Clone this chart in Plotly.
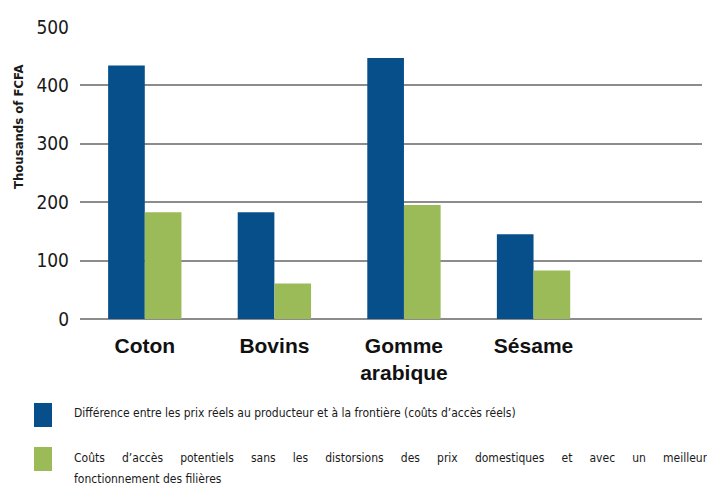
import plotly.graph_objects as go

categories = ["Coton", "Bovins", "Gomme<br>arabique", "Sésame"]
reel_values = [434, 183, 447, 145]
potentiel_values = [183, 61, 195, 83]
series_names = [
    "Différence entre les prix réels au producteur et à la frontière (coûts d’accès réels)",
    "Coûts d’accès potentiels sans les distorsions des prix domestiques et avec un meilleur fonctionnement des filières",
]
legend2_line1_words = ["Coûts", "d’accès", "potentiels", "sans", "les", "distorsions", "des",
                       "prix", "domestiques", "et", "avec", "un", "meilleur"]
legend2_line2 = "fonctionnement des filières"
y_ticks = [0, 100, 200, 300, 400, 500]

BLUE = "#064f8b"
GREEN = "#9bbb59"
GRID = "#8c8c8c"
NARROW = "DejaVu Sans Condensed"

W, H = 707, 488
L, R, T, B = 80, 5, 27, 169
PW, PH = W - L - R, H - T - B

def px(x):
    return (x - L) / PW

def py(y):
    return (H - B - y) / PH

fig = go.Figure()
fig.add_trace(go.Bar(x=categories, y=reel_values, name=series_names[0],
                     marker=dict(color=BLUE, line=dict(width=0)), showlegend=False))
fig.add_trace(go.Bar(x=categories, y=potentiel_values, name=series_names[1],
                     marker=dict(color=GREEN, line=dict(width=0)), showlegend=False))

fig.update_layout(
    width=W, height=H,
    margin=dict(l=L, r=R, t=T, b=B, pad=0, autoexpand=False),
    paper_bgcolor="white", plot_bgcolor="white",
    barmode="group", bargap=0.434, bargroupgap=0,
    showlegend=False,
    font=dict(family=NARROW, color="#1a1a1a"),
)
fig.update_xaxes(
    type="category", range=[-0.5, 4.3], automargin=False,
    tickfont=dict(family="Liberation Sans", size=21, color="#111111", weight="bold"),
    showgrid=False, showline=False, zeroline=False, ticks="", ticklabelstandoff=12,
)
fig.update_yaxes(
    range=[0, 500], tickvals=y_ticks, automargin=False,
    tickfont=dict(family=NARROW, size=19, color="#1a1a1a"),
    showgrid=True, gridcolor=GRID, gridwidth=2,
    zeroline=True, zerolinecolor=GRID, zerolinewidth=2,
    showline=False, ticks="", ticklabelstandoff=10,
)

# y-axis title
fig.add_annotation(
    text="<b>Thousands of FCFA</b>", textangle=-90,
    xref="paper", yref="paper", x=px(18), y=py(127),
    xanchor="center", yanchor="middle", showarrow=False,
    font=dict(family=NARROW, size=13, color="#1a1a1a"),
)

# custom legend
legend_tops = [403, 447]
colors = [BLUE, GREEN]
for top, col in zip(legend_tops, colors):
    fig.add_shape(type="rect", xref="paper", yref="paper",
                  x0=px(34), x1=px(52), y0=py(top + 24), y1=py(top),
                  fillcolor=col, line=dict(width=0))

legend_font = dict(family=NARROW, size=12, color="#1a1a1a")
fig.add_annotation(
    text=series_names[0], xref="paper", yref="paper",
    x=px(72), y=py(413), xanchor="left", yanchor="middle", showarrow=False,
    font=legend_font,
)
gap = " " + "\u00a0" * 4
fig.add_annotation(
    text=gap.join(legend2_line1_words), xref="paper", yref="paper",
    x=px(72), y=py(458), xanchor="left", yanchor="middle", showarrow=False,
    font=legend_font,
)
fig.add_annotation(
    text=legend2_line2, xref="paper", yref="paper",
    x=px(72), y=py(479), xanchor="left", yanchor="middle", showarrow=False,
    font=legend_font,
)

fig.write_html("out.html", config={"displayModeBar": False},
               post_script="document.body.style.margin='0';")
